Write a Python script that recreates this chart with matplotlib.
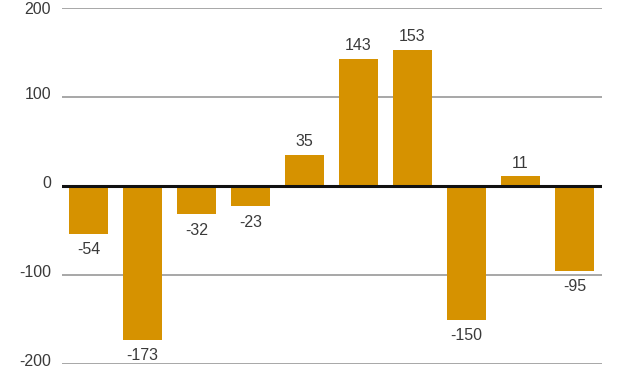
import matplotlib
matplotlib.use("Agg")
import matplotlib.pyplot as plt
import matplotlib.transforms as mtransforms
import numpy as np

values = [-54, -173, -32, -23, 35, 143, 153, -150, 11, -95]
yticks = [-200, -100, 0, 100, 200]
ytick_labels = ["-200", "-100", "0", "100", "200"]

bar_color = "#D69200"
text_color = "#3a3a3a"

fig = plt.figure(figsize=(6.2, 3.75), dpi=100)
ax = fig.add_axes([0.1, 0.0293, 0.871, 0.9494])
x = np.arange(len(values))
ax.bar(x, values, width=0.72, color=bar_color, zorder=2)
for yv in yticks:
    if yv == 0:
        continue
    ax.axhline(yv, color="#a0a0a0", lw=1.3, zorder=1)
ax.axhline(0, color="#111111", lw=2.2, zorder=3)

for xi, v in zip(x, values):
    if v >= 0:
        ax.annotate(str(v), (xi, v), xytext=(0, 4), textcoords="offset points",
                    ha="center", va="bottom", fontsize=11.5, color=text_color,
                    family="Liberation Sans")
    else:
        ax.annotate(str(v), (xi, v), xytext=(0, -6), textcoords="offset points",
                    ha="center", va="top", fontsize=11.5, color=text_color,
                    family="Liberation Sans")

ax.set_xlim(-0.49, 9.51)
ax.set_ylim(-200, 200)
ax.set_yticks(yticks)
ax.set_yticklabels(ytick_labels, family="Liberation Sans", fontsize=11.5, color=text_color)
ax.tick_params(axis="y", length=0, pad=8)
for lab, yv in zip(ax.get_yticklabels(), yticks):
    if yv == max(yticks):
        continue
    offset = mtransforms.ScaledTranslation(0, 3 / 72, fig.dpi_scale_trans)
    lab.set_transform(lab.get_transform() + offset)
ax.set_xticks([])
for s in ax.spines.values():
    s.set_visible(False)
fig.savefig("out.png", dpi=100)
